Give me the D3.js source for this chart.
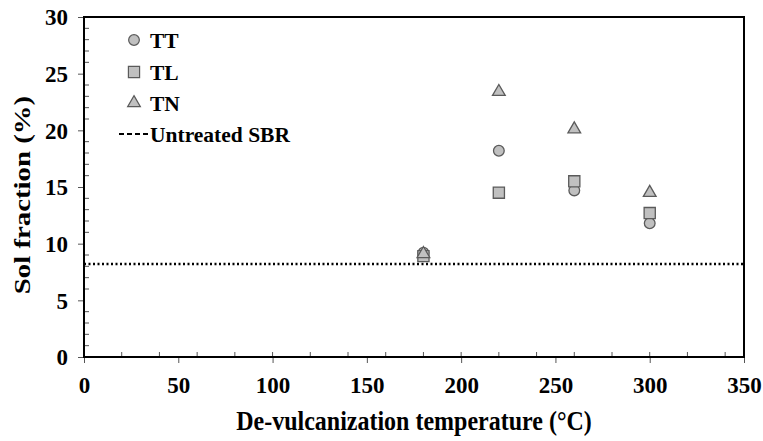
<!DOCTYPE html>
<html><head><meta charset="utf-8">
<script src="https://cdn.jsdelivr.net/npm/d3@7"></script>
<style>body{margin:0;background:#fff}svg{display:block}text{font-family:"Liberation Serif","Times New Roman",serif;font-weight:bold}</style>
</head><body>
<script>
const temps = [180, 220, 260, 300];
const TT = [9.2, 18.2, 14.7, 11.8];
const TL = [8.9, 14.5, 15.5, 12.7];
const TN = [9.1, 23.4, 20.1, 14.5];
const untreated = 8.2;
const xTicks = [0, 50, 100, 150, 200, 250, 300, 350];
const yTicks = [0, 5, 10, 15, 20, 25, 30];

const W = 763, H = 441;
const m = {l: 84, r: 19, t: 17, b: 84};
const svg = d3.select("body").append("svg").attr("width", W).attr("height", H);
const x = d3.scaleLinear().domain([0, 350]).range([m.l, W - m.r]);
const y = d3.scaleLinear().domain([0, 30]).range([H - m.b, m.t]);

// minor ticks inside
const g = svg.append("g");
g.selectAll(".mx").data(d3.range(20, 350, 20)).join("line")
  .attr("x1", d => x(d)).attr("x2", d => x(d)).attr("y1", y(0)).attr("y2", y(0) - 5)
  .attr("stroke", "#555").attr("stroke-width", 1);
g.selectAll(".my").data(d3.range(1, 30).filter(v => v % 5 !== 0)).join("line")
  .attr("x1", x(0)).attr("x2", x(0) + 5).attr("y1", d => y(d)).attr("y2", d => y(d))
  .attr("stroke", "#555").attr("stroke-width", 1);

// axes
const xa = svg.append("g").attr("transform", `translate(0,${y(0)})`)
  .call(d3.axisBottom(x).tickValues(xTicks).tickSize(6).tickPadding(13).tickFormat(d3.format("d")));
const ya = svg.append("g").attr("transform", `translate(${x(0)},0)`)
  .call(d3.axisLeft(y).tickValues(yTicks).tickSize(6).tickPadding(10).tickFormat(d3.format("d")));
[xa, ya].forEach(a => {
  a.select(".domain").remove();
  a.selectAll(".tick line").attr("stroke", "#555");
  a.selectAll("text").attr("font-size", 23).attr("fill", "#000")
    .style("font-family", '"Liberation Serif",serif').style("font-weight", "bold");
});
xa.selectAll("text").attr("y", 36).attr("dy", 0);
ya.selectAll("text").attr("dy", "0.34em");

// frame
svg.append("rect").attr("x", x(0)).attr("y", y(30)).attr("width", x(350) - x(0)).attr("height", y(0) - y(30))
  .attr("fill", "none").attr("stroke", "#000").attr("stroke-width", 2);

// untreated line
svg.append("line").attr("x1", x(0)).attr("x2", x(350)).attr("y1", y(untreated)).attr("y2", y(untreated))
  .attr("stroke", "#000").attr("stroke-width", 2.5).attr("stroke-dasharray", "2,2.5");

const fill = "#c0c0c0", stroke = "#5a5a5a";
const sym = {
  circle: d3.symbol().type(d3.symbolCircle).size(90),
  square: d3.symbol().type(d3.symbolSquare).size(125),
  triangle: d3.symbol().type(d3.symbolTriangle).size(70)
};
function plot(vals, s) {
  svg.append("g").selectAll("path").data(vals).join("path")
    .attr("transform", (d, i) => `translate(${x(temps[i])},${y(d)})`)
    .attr("d", sym[s]).attr("fill", fill).attr("stroke", stroke).attr("stroke-width", 1.3);
}
plot(TT, "circle");
plot(TL, "square");
plot(TN, "triangle");

// legend
const leg = [["TT", "circle", 40], ["TL", "square", 72], ["TN", "triangle", 103]];
leg.forEach(([t, s, yy]) => {
  svg.append("path").attr("transform", `translate(134,${yy})`).attr("d", sym[s])
    .attr("fill", fill).attr("stroke", stroke).attr("stroke-width", 1.2);
  svg.append("text").attr("x", 150).attr("y", yy + 7.5).attr("font-size", 21.5).text(t);
});
svg.append("line").attr("x1", 119).attr("x2", 150).attr("y1", 134).attr("y2", 134)
  .attr("stroke", "#000").attr("stroke-width", 2).attr("stroke-dasharray", "5,3");
svg.append("text").attr("x", 150).attr("y", 141.5).attr("font-size", 21.5).text("Untreated SBR");

// axis titles
svg.append("text").attr("transform", `translate(${(x(0) + x(350)) / 2},430) scale(1,1.15)`)
  .attr("text-anchor", "middle").attr("font-size", 24).text("De-vulcanization temperature (°C)");
svg.append("text").attr("transform", `translate(30,195) scale(1,1.2) rotate(-90)`)
  .attr("text-anchor", "middle").attr("font-size", 24).text("Sol fraction (%)");
</script>
</body></html>
